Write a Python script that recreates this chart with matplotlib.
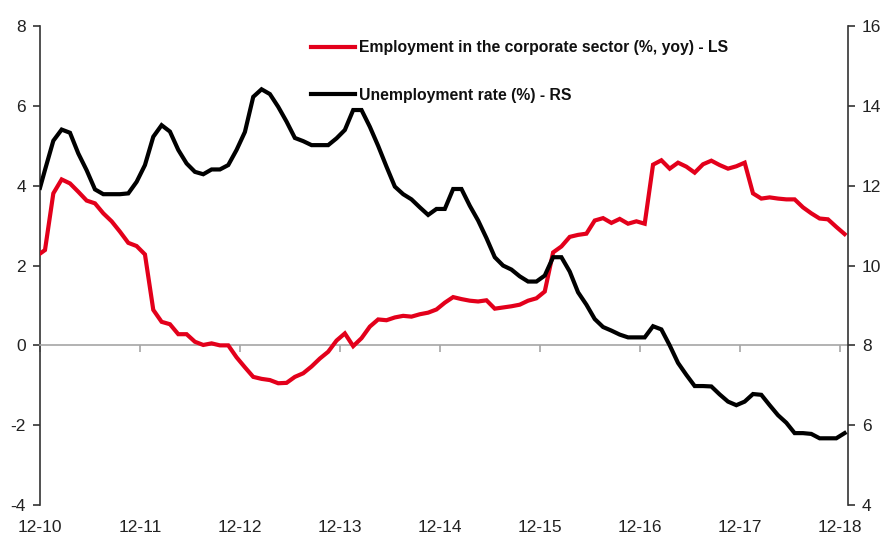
import matplotlib.pyplot as plt
import numpy as np

plt.rcParams['font.family'] = ['Liberation Sans', 'DejaVu Sans']
plt.rcParams['axes.unicode_minus'] = False

# monthly observations, Dec-2010 .. Dec-2018 (first entry is the line start at the axis)
employment = [
    2.30,
    2.39, 3.81, 4.16, 4.06, 3.85, 3.63, 3.56, 3.31, 3.11, 2.85, 2.57, 2.49,
    2.28, 0.89, 0.59, 0.53, 0.28, 0.28, 0.09, 0.01, 0.05, 0.00, 0.00, -0.30,
    -0.55, -0.79, -0.84, -0.87, -0.95, -0.94, -0.79, -0.70, -0.53, -0.33, -0.16, 0.12,
    0.30, -0.02, 0.18, 0.47, 0.65, 0.63, 0.70, 0.74, 0.72, 0.78, 0.82, 0.90,
    1.07, 1.21, 1.16, 1.12, 1.10, 1.13, 0.92, 0.95, 0.98, 1.02, 1.12, 1.18,
    1.35, 2.33, 2.48, 2.72, 2.77, 2.80, 3.13, 3.19, 3.07, 3.17, 3.05, 3.11,
    3.05, 4.53, 4.64, 4.43, 4.58, 4.48, 4.33, 4.54, 4.63, 4.52, 4.43, 4.49,
    4.58, 3.81, 3.68, 3.71, 3.68, 3.66, 3.66, 3.46, 3.31, 3.18, 3.16, 2.97,
    2.79,
]
unemployment = [
    11.95,
    12.40, 13.13, 13.41, 13.33, 12.81, 12.39, 11.91, 11.79, 11.79, 11.79, 11.81, 12.10,
    12.52, 13.23, 13.52, 13.36, 12.90, 12.56, 12.35, 12.29, 12.41, 12.41, 12.52, 12.90,
    13.35, 14.23, 14.42, 14.30, 13.98, 13.61, 13.20, 13.12, 13.02, 13.02, 13.02, 13.19,
    13.40, 13.90, 13.90, 13.48, 13.00, 12.48, 11.98, 11.79, 11.66, 11.46, 11.27, 11.42,
    11.42, 11.92, 11.92, 11.50, 11.13, 10.69, 10.21, 10.00, 9.90, 9.73, 9.60, 9.60,
    9.75, 10.21, 10.21, 9.85, 9.33, 9.02, 8.66, 8.46, 8.37, 8.27, 8.20, 8.20,
    8.20, 8.48, 8.40, 8.00, 7.56, 7.26, 6.98, 6.98, 6.97, 6.77, 6.59, 6.50,
    6.59, 6.78, 6.76, 6.50, 6.25, 6.06, 5.80, 5.80, 5.78, 5.67, 5.67, 5.67,
    5.80,
]
year_labels = ['12-10', '12-11', '12-12', '12-13', '12-14', '12-15', '12-16', '12-17', '12-18']

# x in months from the 12-10 tick
months = np.r_[0.0, np.arange(97) + 0.6]

fig = plt.figure(figsize=(8.83, 5.36), dpi=100)
ax = fig.add_axes([0.0453, 0.058, 0.915, 0.893])
ax2 = ax.twinx()

red = '#E3001B'
l1, = ax.plot(months, employment, color=red, lw=3.0, solid_joinstyle='miter',
              label='Employment in the corporate sector (%, yoy) - LS', zorder=3)
l2, = ax2.plot(months, unemployment, color='black', lw=3.0, solid_joinstyle='miter',
               label='Unemployment rate (%) - RS', zorder=3)

ax.set_xlim(0, 97)
ax.set_ylim(-4, 8)
ax.set_yticks(np.arange(-4, 9, 2))
ax2.set_ylim(4, 16)
ax2.set_yticks(np.arange(4, 17, 2))

# x axis sits on the zero line, labels at the bottom
ax.spines['bottom'].set_position(('data', 0))
ax.spines['bottom'].set_color('#a6a6a6')
ax.spines['bottom'].set_linewidth(1.2)
ax.set_xticks(np.arange(0, 97, 12))
ax.set_xticklabels(year_labels)
ax.tick_params(axis='x', direction='out', length=5, color='#a6a6a6', width=1.2,
               pad=121, labelsize=12.5, labelcolor='#222222')

for a in (ax, ax2):
    a.spines['top'].set_visible(False)
ax2.spines['bottom'].set_visible(False)
ax.spines['right'].set_visible(False)
ax2.spines['left'].set_visible(False)
ax.spines['left'].set_color('#333333')
ax2.spines['right'].set_color('#333333')
ax.spines['left'].set_linewidth(1.2)
ax2.spines['right'].set_linewidth(1.2)
ax.tick_params(axis='y', direction='out', length=5, width=1.2, color='#333333',
               labelsize=12.5, labelcolor='#222222', pad=5)
ax2.tick_params(axis='y', direction='out', length=5, width=1.2, color='#333333',
                labelsize=12.5, labelcolor='#222222', pad=5)

leg = ax2.legend(handles=[l1, l2], loc='upper left', bbox_to_anchor=(0.318, 1.0),
                 frameon=False, handlelength=2.8, handletextpad=0.25,
                 labelspacing=2.05, prop={'size': 11.3, 'weight': 'bold'})
for t in leg.get_texts():
    t.set_color('#111111')

fig.savefig('out.png', dpi=100)
